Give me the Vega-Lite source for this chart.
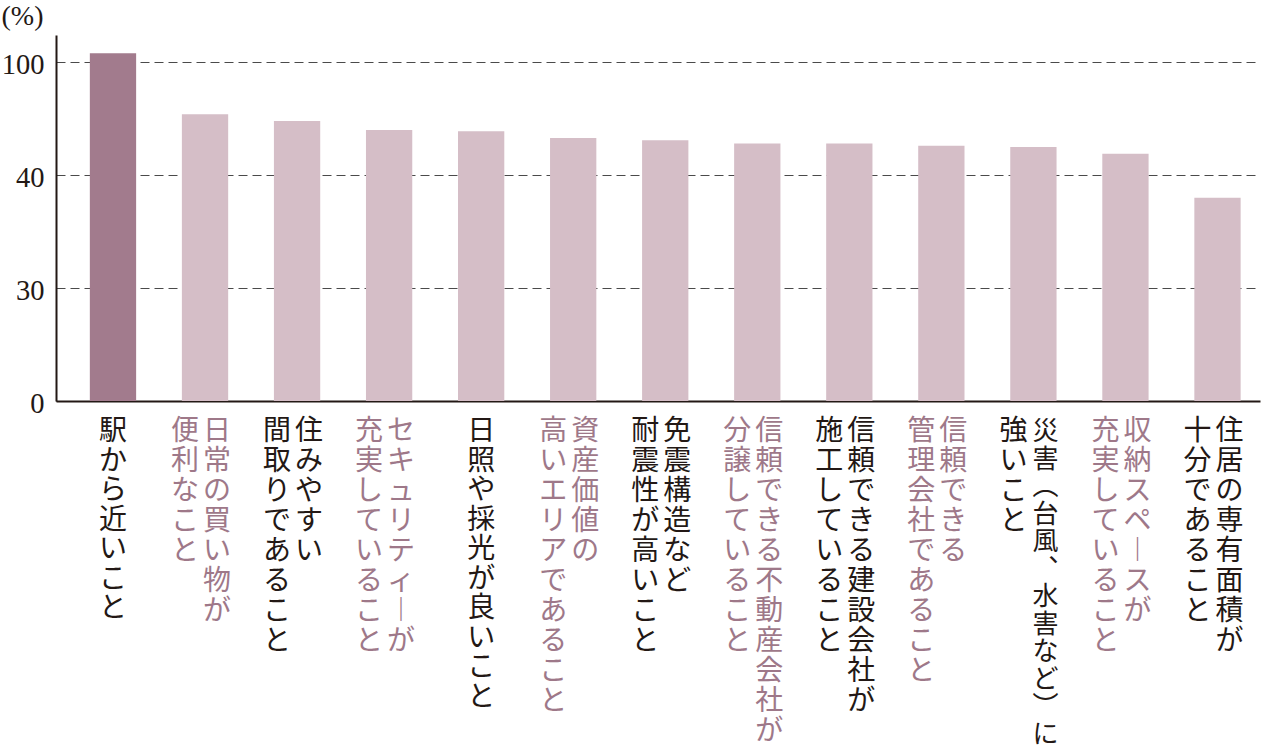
{
  "$schema": "https://vega.github.io/schema/vega-lite/v6.json",
  "width": 1204,
  "height": 366,
  "autosize": {"type": "none"},
  "padding": {"left": 56, "top": 35, "right": 1, "bottom": 355},
  "background": "#ffffff",
  "config": {"view": {"stroke": null}},
  "data": {
    "values": [
      {"item": "駅から近いこと", "value": 50.8, "line1": ["駅","か","ら","近","い","こ","と"], "line2": null},
      {"item": "日常の買い物が便利なこと", "value": 45.4, "line1": ["日","常","の","買","い","物","が"], "line2": ["便","利","な","こ","と"]},
      {"item": "住みやすい間取りであること", "value": 44.8, "line1": ["住","み","や","す","い"], "line2": ["間","取","り","で","あ","る","こ","と"]},
      {"item": "セキュリティーが充実していること", "value": 44.0, "line1": ["セ","キ","ュ","リ","テ","ィ","︱","が"], "line2": ["充","実","し","て","い","る","こ","と"]},
      {"item": "日照や採光が良いこと", "value": 43.9, "line1": ["日","照","や","採","光","が","良","い","こ","と"], "line2": null},
      {"item": "資産価値の高いエリアであること", "value": 43.3, "line1": ["資","産","価","値","の"], "line2": ["高","い","エ","リ","ア","で","あ","る","こ","と"]},
      {"item": "免震構造など耐震性が高いこと", "value": 43.1, "line1": ["免","震","構","造","な","ど"], "line2": ["耐","震","性","が","高","い","こ","と"]},
      {"item": "信頼できる不動産会社が分譲していること", "value": 42.8, "line1": ["信","頼","で","き","る","不","動","産","会","社","が"], "line2": ["分","譲","し","て","い","る","こ","と"]},
      {"item": "信頼できる建設会社が施工していること", "value": 42.8, "line1": ["信","頼","で","き","る","建","設","会","社","が"], "line2": ["施","工","し","て","い","る","こ","と"]},
      {"item": "信頼できる管理会社であること", "value": 42.6, "line1": ["信","頼","で","き","る"], "line2": ["管","理","会","社","で","あ","る","こ","と"]},
      {"item": "災害（台風、水害など）に強いこと", "value": 42.5, "line1": ["災","害","︵","台","風","︑","水","害","な","ど","︶","に"], "line2": ["強","い","こ","と"]},
      {"item": "収納スペースが充実していること", "value": 41.9, "line1": ["収","納","ス","ペ","︱","ス","が"], "line2": ["充","実","し","て","い","る","こ","と"]},
      {"item": "住居の専有面積が十分であること", "value": 38.0, "line1": ["住","居","の","専","有","面","積","が"], "line2": ["十","分","で","あ","る","こ","と"]}
    ]
  },
  "encoding": {
    "x": {
      "field": "item",
      "type": "nominal",
      "sort": null,
      "scale": {"paddingInner": 0.497, "paddingOuter": 0.289, "align": 0.636},
      "axis": {
        "title": null,
        "labels": false,
        "ticks": false,
        "domain": true,
        "domainColor": "#231815",
        "domainWidth": 2,
        "grid": false
      }
    }
  },
  "layer": [
    {
      "mark": {"type": "bar"},
      "encoding": {
        "y": {
          "field": "value",
          "type": "quantitative",
          "scale": {"domain": [20, 52.42], "nice": false, "zero": false},
          "axis": {
            "values": [20, 30, 40, 50],
            "labelExpr": "datum.value == 20 ? '0' : datum.value == 50 ? '100' : datum.label",
            "labelFont": "Liberation Serif",
            "labelFontSize": 28.5,
            "labelColor": "#231815",
            "labelPadding": 12,
            "labelOffset": 2,
            "ticks": false,
            "domainColor": "#231815",
            "domainWidth": 2,
            "grid": true,
            "gridDash": [9, 5],
            "gridColor": "#4a4a4a",
            "gridWidth": 1,
            "title": "(%)",
            "titleAngle": 0,
            "titleFont": "Liberation Serif",
            "titleFontSize": 28,
            "titleFontWeight": "normal",
            "titleColor": "#231815",
            "titleAlign": "left",
            "titleBaseline": "top",
            "titleX": -55,
            "titleY": -33
          }
        },
        "y2": {"datum": 20},
        "color": {
          "condition": {"test": "datum.item === '駅から近いこと'", "value": "#a27b8d"},
          "value": "#d5bec7"
        }
      }
    },
    {
      "transform": [
        {"window": [{"op": "row_number", "as": "rank"}]},
        {"filter": "datum.line2 == null"}
      ],
      "mark": {"type": "text", "font": "Noto Sans CJK JP", "fontSize": 28, "lineHeight": 29.5, "baseline": "top", "align": "center", "dy": 17},
      "encoding": {
        "y": {"datum": 20, "type": "quantitative"},
        "text": {"field": "line1", "type": "nominal"},
        "color": {"condition": {"test": "datum.rank % 2 === 0", "value": "#9e7889"}, "value": "#231815"}
      }
    },
    {
      "transform": [
        {"window": [{"op": "row_number", "as": "rank"}]},
        {"filter": "datum.line2 != null && length(datum.line1) <= 11"}
      ],
      "mark": {"type": "text", "font": "Noto Sans CJK JP", "fontSize": 28, "lineHeight": 30, "baseline": "top", "align": "center", "dy": 17, "dx": 12},
      "encoding": {
        "y": {"datum": 20, "type": "quantitative"},
        "text": {"field": "line1", "type": "nominal"},
        "color": {"condition": {"test": "datum.rank % 2 === 0", "value": "#9e7889"}, "value": "#231815"}
      }
    },
    {
      "transform": [
        {"window": [{"op": "row_number", "as": "rank"}]},
        {"filter": "datum.line2 != null && length(datum.line1) > 11"}
      ],
      "mark": {"type": "text", "font": "Noto Sans CJK JP", "fontSize": 26, "lineHeight": 27.5, "baseline": "top", "align": "center", "dy": 18, "dx": 12},
      "encoding": {
        "y": {"datum": 20, "type": "quantitative"},
        "text": {"field": "line1", "type": "nominal"},
        "color": {"condition": {"test": "datum.rank % 2 === 0", "value": "#9e7889"}, "value": "#231815"}
      }
    },
    {
      "transform": [
        {"window": [{"op": "row_number", "as": "rank"}]},
        {"filter": "datum.line2 != null"}
      ],
      "mark": {"type": "text", "font": "Noto Sans CJK JP", "fontSize": 28, "lineHeight": 30, "baseline": "top", "align": "center", "dy": 17, "dx": -20},
      "encoding": {
        "y": {"datum": 20, "type": "quantitative"},
        "text": {"field": "line2", "type": "nominal"},
        "color": {"condition": {"test": "datum.rank % 2 === 0", "value": "#9e7889"}, "value": "#231815"}
      }
    }
  ]
}
